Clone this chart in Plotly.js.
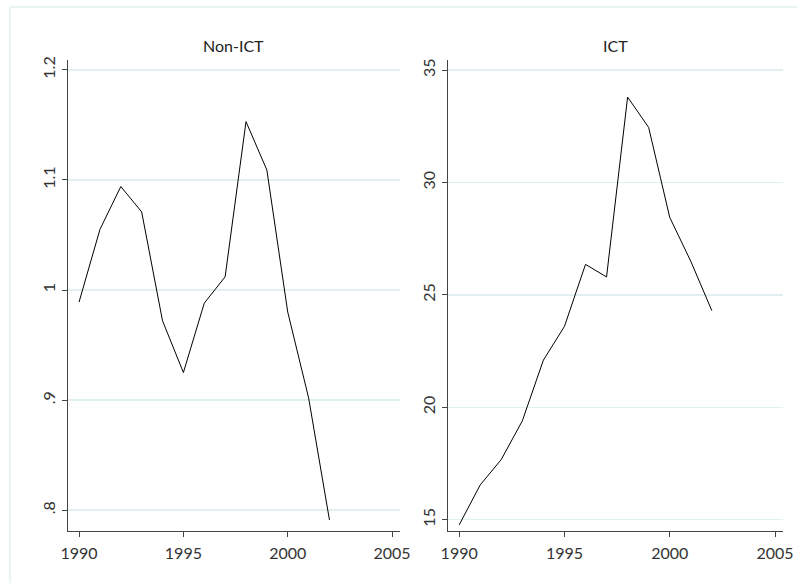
<!DOCTYPE html>
<html>
<head>
<meta charset="utf-8">
<script src="https://cdn.plot.ly/plotly-3.0.1.min.js"></script>
<style>html,body{margin:0;padding:0;background:#fff;}#chart{width:797px;height:583px;}</style>
</head>
<body>
<div id="chart"></div>
<script>
const years = [1990,1991,1992,1993,1994,1995,1996,1997,1998,1999,2000,2001,2002];
const nonICT = [0.989,1.055,1.094,1.071,0.972,0.925,0.988,1.012,1.153,1.109,0.980,0.902,0.791];
const ict = [14.77,16.55,17.68,19.40,22.10,23.60,26.36,25.80,33.80,32.45,28.45,26.50,24.30];
const panelTitles = ["Non-ICT","ICT"];
const xTicks = [1990,1995,2000,2005];
const leftYTicks = [0.8,0.9,1.0,1.1,1.2];
const leftYText = [".8",".9","1","1.1","1.2"];
const rightYTicks = [15,20,25,30,35];

const W = 797, H = 583;
const font = {family: "Lato, 'Open Sans', sans-serif", size: 16, color: "#333"};
const gridColor = "#e2eff0";
const axisColor = "#444";

const traces = [
  {x: years, y: nonICT, type: "scatter", mode: "lines", line: {color: "#000", width: 1}, xaxis: "x", yaxis: "y", hoverinfo: "skip"},
  {x: years, y: ict, type: "scatter", mode: "lines", line: {color: "#000", width: 1}, xaxis: "x2", yaxis: "y2", hoverinfo: "skip"}
];

const yDom = [1 - 531/H, 1 - 60/H];
function xAxis(dom, anchor) {
  return {domain: dom, anchor: anchor, range: [1989.47, 2005.38], tickvals: xTicks, ticks: "outside", ticklen: 5,
    tickcolor: axisColor, showline: true, linecolor: axisColor, linewidth: 1.3, showgrid: false, zeroline: false,
    tickfont: font, fixedrange: true, ticklabelstandoff: 2};
}
function yAxis(range, tv, tt, anchor) {
  const a = {domain: yDom, anchor: anchor, range: range, tickvals: tv, ticks: "outside", ticklen: 5,
    tickcolor: axisColor, showline: true, linecolor: axisColor, linewidth: 1.3, showgrid: true, gridcolor: gridColor,
    gridwidth: 1.3, zeroline: false, tickangle: -90, tickfont: font, fixedrange: true};
  if (tt) a.ticktext = tt;
  return a;
}

const layout = {
  width: W, height: H,
  margin: {l: 0, r: 0, t: 0, b: 0},
  paper_bgcolor: "#fff", plot_bgcolor: "#fff",
  showlegend: false,
  xaxis: xAxis([68/W, 400/W], "y"),
  yaxis: yAxis([0.781, 1.209], leftYTicks, leftYText, "x"),
  xaxis2: xAxis([448/W, 783/W], "y2"),
  yaxis2: yAxis([14.5, 35.45], rightYTicks, null, "x2"),
  annotations: [
    {text: panelTitles[0], xref: "paper", yref: "paper", x: 234/W, y: 1 - 45/H, showarrow: false, font: {family: font.family, size: 16, color: "#222"}, xanchor: "center", yanchor: "middle"},
    {text: panelTitles[1], xref: "paper", yref: "paper", x: 615/W, y: 1 - 45/H, showarrow: false, font: {family: font.family, size: 16, color: "#222"}, xanchor: "center", yanchor: "middle"}
  ],
  shapes: [
    {type: "rect", xref: "paper", yref: "paper", x0: 10/W, x1: 1.02, y0: -0.02, y1: 1 - 7/H, line: {color: gridColor, width: 1.3}, fillcolor: "rgba(0,0,0,0)", layer: "below"}
  ]
};

Plotly.newPlot("chart", traces, layout, {displayModeBar: false, staticPlot: true});
</script>
</body>
</html>
